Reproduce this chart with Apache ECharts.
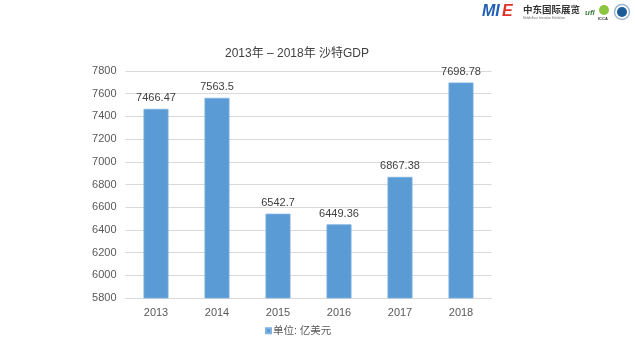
<!DOCTYPE html>
<html>
<head>
<meta charset="utf-8">
<script src="https://cdn.jsdelivr.net/npm/echarts@6/dist/echarts.min.js"></script>
<style>
html,body{margin:0;padding:0;background:#fff;}
#chart{width:635px;height:345px;}
</style>
</head>
<body>
<div id="chart"></div>
<script>
// Saudi GDP 2013–2018, unit: 100 million USD
const years = ['2013', '2014', '2015', '2016', '2017', '2018'];
const gdp = [7466.47, 7563.5, 6542.7, 6449.36, 6867.38, 7698.78];
const yTicks = { min: 5800, max: 7800, step: 200 };

const FONT = '"Liberation Sans", Arial, "Noto Sans CJK SC", sans-serif';
const chart = echarts.init(document.getElementById('chart'), null, { renderer: 'canvas' });

chart.setOption({
  animation: false,
  backgroundColor: '#ffffff',
  title: {
    text: '2013年 – 2018年 沙特GDP',
    left: 292,
    top: 43,
    textAlign: 'center',
    textStyle: { fontFamily: FONT, fontSize: 12, fontWeight: 'normal', color: '#404040' }
  },
  legend: {
    data: ['单位: 亿美元'],
    bottom: 4,
    left: 260,
    icon: 'rect',
    itemWidth: 5,
    itemHeight: 5,
    itemGap: 4,
    textStyle: { fontFamily: FONT, fontSize: 10.5, color: '#595959', padding: [0, 0, 0, -3] }
  },
  grid: { left: 125.5, right: 143.5, top: 71, bottom: 47, containLabel: false },
  xAxis: {
    type: 'category',
    data: years,
    axisLine: { lineStyle: { color: '#d9d9d9' } },
    axisTick: { show: false },
    axisLabel: { fontFamily: FONT, fontSize: 11, color: '#595959', margin: 9 }
  },
  yAxis: {
    type: 'value',
    min: yTicks.min,
    max: yTicks.max,
    interval: yTicks.step,
    axisLine: { show: false },
    axisTick: { show: false },
    axisLabel: { fontFamily: FONT, fontSize: 11, color: '#595959', margin: 9, formatter: v => String(v) },
    splitLine: { lineStyle: { color: '#d9d9d9', width: 1 } }
  },
  series: [{
    name: '单位: 亿美元',
    type: 'bar',
    data: gdp,
    barWidth: 25,
    itemStyle: { color: '#5b9bd5', borderColor: '#7fb2e0', borderWidth: 0.8 },
    label: {
      show: true,
      position: 'top',
      distance: 5,
      fontFamily: FONT,
      fontSize: 11,
      color: '#404040'
    }
  }],
  graphic: [
    // organiser logo, top right
    { type: 'text', left: 482, top: 4, style: { text: 'MI', font: 'italic bold 16px "Liberation Sans", Arial', fill: '#1f5fb4' } },
    { type: 'text', left: 502, top: 4, style: { text: 'E', font: 'italic bold 16px "Liberation Sans", Arial', fill: '#e0312b' } },
    { type: 'text', left: 523, top: 5, style: { text: '中东国际展览', font: 'bold 9.5px "Noto Sans CJK SC"', fill: '#333333' } },
    { type: 'text', left: 523, top: 17, style: { text: 'MiddleEast Interation Exhibition', font: '3px "Liberation Sans"', fill: '#777777' } },
    { type: 'text', left: 585, top: 9, style: { text: 'ufi', font: 'italic bold 8px "Liberation Sans"', fill: '#3a7a3a' } },
    { type: 'circle', shape: { cx: 604, cy: 10, r: 5 }, style: { fill: '#8cc63f' } },
    { type: 'text', left: 598, top: 17, style: { text: 'ICCA', font: 'bold 4px "Liberation Sans"', fill: '#333' } },
    { type: 'circle', shape: { cx: 622, cy: 12, r: 7.5 }, style: { fill: '#ffffff', stroke: '#9fb6cf', lineWidth: 1.5 } },
    { type: 'circle', shape: { cx: 622, cy: 12, r: 5 }, style: { fill: '#1d5c96' } }
  ]
});
</script>
</body>
</html>
